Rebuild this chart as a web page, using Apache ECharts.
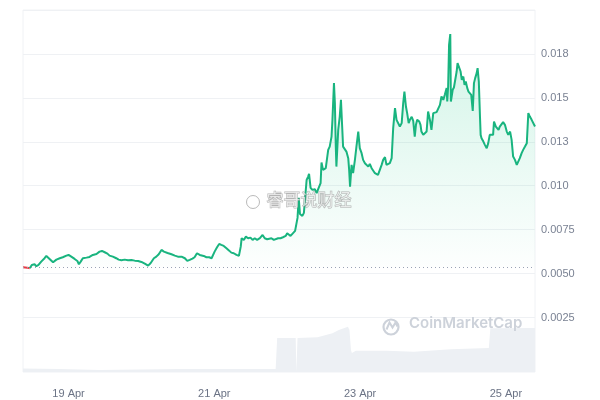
<!DOCTYPE html>
<html>
<head>
<meta charset="utf-8">
<script src="https://cdn.jsdelivr.net/npm/echarts@6/dist/echarts.min.js"></script>
<style>html,body{margin:0;padding:0;background:#fff;}#c{width:600px;height:400px;}</style>
</head>
<body>
<div id="c"></div>
<script>
// hours since 18 Apr 00:00
const hours = [9.0,10.4,11.2,11.9,12.8,13.4,14.1,15.0,16.1,16.7,17.2,18.1,18.9,20.0,21.1,22.1,23.3,24.0,24.9,26.0,26.9,27.4,28.0,28.7,29.9,30.9,32.0,33.2,34.2,35.0,35.9,36.8,37.5,38.6,39.7,40.5,41.4,42.5,43.6,44.7,45.8,46.9,48.0,49.1,50.2,51.0,52.1,52.9,53.7,54.6,55.4,56.6,57.9,59.0,60.0,61.2,61.7,62.3,63.1,63.9,64.8,65.5,66.3,67.2,67.8,68.5,69.4,70.3,71.1,71.6,72.1,72.9,73.6,74.3,75.1,76.0,76.9,77.6,78.4,79.3,80.1,80.7,81.0,81.7,82.4,83.1,83.9,84.6,85.3,86.1,87.0,87.9,88.6,89.4,90.0,90.8,91.6,92.2,93.0,93.8,94.6,95.5,96.0,96.6,97.1,97.7,98.6,99.4,99.8,100.2,101.0,101.5,101.8,102.4,102.9,103.2,103.7,104.3,105.1,105.7,106.2,107.0,107.3,107.8,108.7,109.5,110.0,110.6,110.9,111.4,111.7,112.0,112.2,112.8,113.3,113.7,114.1,114.4,115.0,115.5,116.1,116.4,116.7,117.2,117.7,118.3,118.8,119.4,119.9,120.5,121.0,121.6,122.1,122.7,123.2,123.8,124.3,124.9,125.4,125.9,126.5,127.1,127.6,128.2,128.7,129.2,129.8,130.4,130.9,131.5,132.0,132.5,133.1,133.7,134.2,134.6,135.1,135.5,136.0,136.4,137.0,137.5,138.0,138.4,138.8,139.5,139.9,140.2,140.8,141.3,141.9,142.4,143.0,143.5,144.1,144.6,145.2,145.7,146.3,146.8,147.4,147.9,148.5,148.7,149.0,149.3,149.7,149.9,150.5,150.9,151.3,151.8,152.1,152.6,153.1,153.5,154.0,154.4,154.8,155.3,155.7,156.2,156.6,157.1,157.5,157.9,158.4,158.7,159.1,159.5,159.7,160.0,160.6,161.1,161.7,162.2,162.7,163.3,163.8,164.1,164.7,165.1,165.6,166.0,166.6,167.1,167.7,168.3,168.8,169.4,169.9,170.4,171.0,171.6,172.1,172.6,173.2,173.7,174.3,174.9,175.4,175.9,176.5,177.0,177.6];

const prices = [0.00536,0.005336,0.005302,0.00549,0.00553,0.005416,0.00549,0.005678,0.005872,0.006003,0.005928,0.005775,0.005644,0.005792,0.005872,0.005928,0.00602,0.00606,0.005963,0.005832,0.005718,0.00553,0.005678,0.005872,0.005906,0.005946,0.00606,0.006116,0.006247,0.006287,0.006213,0.006134,0.00602,0.005963,0.005872,0.005792,0.005758,0.005792,0.005758,0.005775,0.005735,0.005718,0.005661,0.005564,0.00545,0.005587,0.005872,0.005963,0.006099,0.006344,0.006247,0.006173,0.006099,0.00602,0.005963,0.005963,0.00602,0.005872,0.005718,0.005775,0.005849,0.005928,0.006156,0.00606,0.006156,0.006003,0.005928,0.005928,0.005872,0.005775,0.006247,0.006498,0.006686,0.006629,0.006572,0.006441,0.006304,0.00619,0.006156,0.00606,0.006003,0.006532,0.007011,0.006914,0.007102,0.007011,0.007045,0.006914,0.007011,0.006914,0.007011,0.007198,0.007011,0.006954,0.007045,0.007011,0.006914,0.006874,0.007011,0.007011,0.007067,0.007142,0.007295,0.007386,0.007142,0.007255,0.007426,0.008167,0.009306,0.008394,0.008281,0.008451,0.009095,0.010331,0.010519,0.010672,0.009875,0.009761,0.009801,0.009573,0.009801,0.010143,0.011316,0.0109,0.010997,0.012039,0.012227,0.012797,0.013748,0.015838,0.014699,0.012227,0.011088,0.013178,0.013936,0.014887,0.013366,0.012227,0.012324,0.011942,0.011567,0.0109,0.009949,0.011185,0.010712,0.01147,0.012227,0.013081,0.012136,0.011851,0.01147,0.011282,0.011185,0.011088,0.011242,0.010997,0.0109,0.010712,0.010672,0.010615,0.0109,0.011185,0.01147,0.011623,0.011185,0.011185,0.011282,0.011567,0.013275,0.014414,0.013748,0.013845,0.013366,0.01356,0.014699,0.015359,0.014505,0.014129,0.01356,0.013748,0.013919,0.013691,0.012797,0.013463,0.013748,0.013651,0.013463,0.013081,0.012893,0.01299,0.013081,0.01422,0.013748,0.013178,0.014129,0.014032,0.014186,0.014186,0.014602,0.015075,0.014887,0.015171,0.015553,0.01479,0.015644,0.018019,0.018628,0.01479,0.015456,0.015587,0.015553,0.016498,0.016977,0.01688,0.016498,0.016026,0.016214,0.015741,0.015929,0.015553,0.015359,0.015456,0.015171,0.01426,0.015838,0.016122,0.016407,0.016692,0.015929,0.013845,0.012893,0.012706,0.012512,0.012324,0.012136,0.012421,0.012893,0.01299,0.012893,0.013651,0.013366,0.013275,0.013178,0.013366,0.013463,0.013617,0.013463,0.013081,0.012893,0.013081,0.012609,0.011658,0.01147,0.011185,0.011145,0.011567,0.011851,0.012039,0.012227,0.012421,0.014129,0.013936,0.013748,0.013651,0.013366];

const openPrice = 0.00536;
const belowOpenCount = 3; // first samples that sit at/below the open price

const volHours = [9.0,21.1,34.2,47.4,60.6,77.1,92.2,92.7,98.8,99.0,99.3,99.4,106.0,110.9,113.0,116.0,116.5,117.0,117.3,118.6,128.8,137.7,149.9,159.8,162.4,162.9,177.6];
const volumes = [4.9,4.2,2.8,3.5,4.2,4.2,4.2,47.2,47.2,0,0,47.2,48.2,53.8,58.3,62.9,58.3,30.6,26.4,29.6,29.6,28.2,31.5,32.9,33.3,60.7,61.1];

const xTickHours = [24,72,120,168];
const xTickLabels = ['19 Apr','21 Apr','23 Apr','25 Apr'];
const yTickValues = [0.0025,0.005,0.0075,0.01,0.0125,0.015,0.0175];
const yTickLabels = ['0.0025','0.0050','0.0075','0.010','0.013','0.015','0.018'];

const priceData = hours.map((h,i)=>[h,prices[i]]);
const redData = priceData.slice(0, belowOpenCount);
const greenData = priceData.slice(belowOpenCount - 1);
const volData = volHours.map((h,i)=>[h,volumes[i]]);

const chart = echarts.init(document.getElementById('c'), null, {renderer:'canvas'});
const FONT = "'Liberation Sans', Arial, sans-serif";
const XMIN = 9, XMAX = 177.6;
const GREEN = '#19b47f';

chart.setOption({
  animation:false,
  backgroundColor:'#ffffff',
  grid:[
    {left:23, right:65, top:10, bottom:28, show:true, borderColor:'#f0f2f5', borderWidth:1},
    {left:23, right:65, top:10, bottom:38.6}
  ],
  xAxis:[
    {type:'value', gridIndex:0, min:XMIN, max:XMAX,
     axisLine:{show:false}, axisTick:{show:false}, splitLine:{show:false},
     axisLabel:{customValues:xTickHours, margin:16, fontSize:11, fontFamily:FONT, color:'#6b7385',
       formatter:(v)=>{const i=xTickHours.indexOf(Math.round(v));return i>=0?xTickLabels[i]:'';}}},
    {type:'value', gridIndex:1, min:XMIN, max:XMAX, show:false}
  ],
  yAxis:[
    {type:'value', gridIndex:0, min:0, max:502.8, show:false},
    {type:'value', gridIndex:1, position:'right', min:0, max:0.02, interval:0.0025,
     axisLine:{show:false}, axisTick:{show:false},
     splitLine:{show:true, showMinLine:false, lineStyle:{color:'#eff1f4', width:1}},
     axisLabel:{margin:6, fontSize:11, fontFamily:FONT, color:'#7a8293',
       formatter:(v)=>{for(let i=0;i<yTickValues.length;i++){if(Math.abs(yTickValues[i]-v)<1e-7)return yTickLabels[i];}return '';}}}
  ],
  series:[
    {type:'line', xAxisIndex:0, yAxisIndex:0, data:volData, symbol:'none', silent:true,
     lineStyle:{width:0}, areaStyle:{color:'#edf0f4', opacity:1}, z:1},
    {type:'line', xAxisIndex:1, yAxisIndex:1, data:redData, symbol:'none', silent:true,
     lineStyle:{width:2, color:'#ea3943'}, itemStyle:{color:'#ea3943'}, z:3},
    {type:'line', xAxisIndex:1, yAxisIndex:1, data:greenData, symbol:'none', silent:true,
     lineStyle:{width:2, color:GREEN}, itemStyle:{color:GREEN}, z:4,
     areaStyle:{origin:openPrice, color:new echarts.graphic.LinearGradient(0,0,0,1,[
       {offset:0,color:'rgba(22,199,132,0.28)'},{offset:1,color:'rgba(22,199,132,0.01)'}])},
     markLine:{silent:true, symbol:'none', precision:8, label:{show:false},
       lineStyle:{type:[1,3], color:'#9aa3b5', width:1},
       data:[{yAxis:openPrice}]}}
  ],
  graphic:[
    {type:'circle', left:381, top:317, shape:{r:7.5}, style:{fill:'none', stroke:'#cdd2da', lineWidth:2.2}, z:10},
    {type:'polyline', left:384, top:320, shape:{points:[[0,9],[3,2],[6,7],[9,2],[11,6]]}, style:{fill:'none', stroke:'#cdd2da', lineWidth:2}, z:10},
    {type:'text', left:409, top:316, style:{text:'CoinMarketCap', font:"600 15px Inter, 'Liberation Sans', sans-serif", fill:'#cdd2da'}, z:10},
    {type:'circle', left:246, top:195, shape:{r:6.5}, style:{fill:'rgba(255,255,255,0.6)', stroke:'rgba(140,140,140,0.6)', lineWidth:1}, z:10},
    {type:'text', left:266, top:191, style:{text:'睿哥说财经', font:"17px 'Noto Sans CJK SC', sans-serif", fill:'rgba(255,255,255,0.65)', stroke:'rgba(130,130,130,0.6)', lineWidth:1}, z:10}
  ]
});
</script>
</body>
</html>
